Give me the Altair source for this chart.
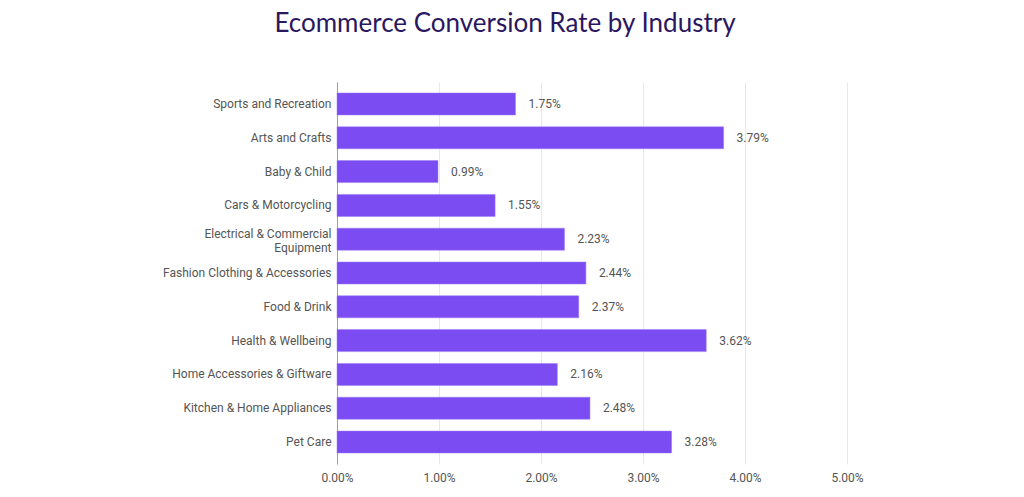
import altair as alt
import pandas as pd

industries = [
    "Sports and Recreation",
    "Arts and Crafts",
    "Baby & Child",
    "Cars & Motorcycling",
    "Electrical & Commercial Equipment",
    "Fashion Clothing & Accessories",
    "Food & Drink",
    "Health & Wellbeing",
    "Home Accessories & Giftware",
    "Kitchen & Home Appliances",
    "Pet Care",
]
rates = [1.75, 3.79, 0.99, 1.55, 2.23, 2.44, 2.37, 3.62, 2.16, 2.48, 3.28]

df = pd.DataFrame({"industry": industries, "rate": rates})
df["label"] = [f"{v:.2f}%" for v in rates]

W, H = 510, 382

y = alt.Y(
    "industry:N",
    sort=None,
    title=None,
    scale=alt.Scale(paddingInner=0.35, paddingOuter=0.325),
    axis=alt.Axis(
        labelFont="Roboto",
        labelFontSize=12,
        labelColor="#555555",
        labelPadding=6,
        ticks=False,
        domain=True,
        domainColor="#a0a0a0",
        grid=False,
        labelExpr="datum.label == 'Electrical & Commercial Equipment' ? ['Electrical & Commercial', 'Equipment'] : datum.label",
        labelOffset={
            "condition": {"test": "datum.value == 'Electrical & Commercial Equipment'", "value": -5},
            "value": 0,
        },
        labelLimit=300,
    ),
)

x = alt.X(
    "rate:Q",
    title=None,
    scale=alt.Scale(domain=[0, 5], nice=False),
    axis=alt.Axis(
        values=[0, 1, 2, 3, 4, 5],
        labelExpr="format(datum.value, '.2f') + '%'",
        labelFont="Roboto",
        labelFontSize=12,
        labelColor="#555555",
        labelPadding=8,
        labelFlush=False,
        ticks=False,
        domain=False,
        grid=True,
        gridColor="#e8e8e8",
    ),
)

bars = alt.Chart(df).mark_bar(color="#7a4cf2", stroke="#9a78f5", strokeWidth=0.5).encode(x=x, y=y)
text = alt.Chart(df).mark_text(
    align="left", baseline="middle", dx=13, font="Roboto", fontSize=12, color="#555555"
).encode(
    x="rate:Q",
    y=alt.Y("industry:N", sort=None),
    text="label:N",
)

chart = (
    (bars + text)
    .properties(
        width=W,
        height=H,
        background="#ffffff",
        title=alt.TitleParams(
            "Ecommerce Conversion Rate by Industry",
            font="Lato",
            fontSize=26,
            fontWeight="normal",
            color="#2b1760",
            anchor="middle",
            dx=-87,
            offset=45,
        ),
        autosize=alt.AutoSizeParams(type="none"),
        padding={"left": 329, "top": 74, "right": 60, "bottom": 30},
    )
    .configure_view(stroke=None, strokeWidth=0)
)

chart.save("out.html", embed_options={"renderer": "svg", "actions": False})
